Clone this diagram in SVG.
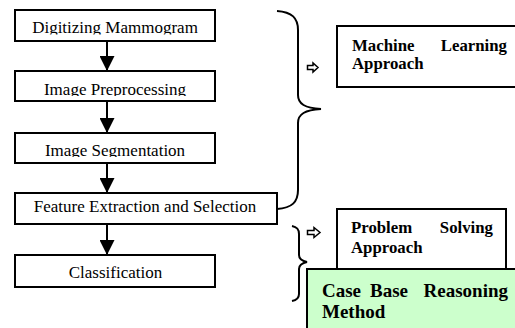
<svg xmlns="http://www.w3.org/2000/svg" width="515" height="328" viewBox="0 0 515 328">
  <style>
    .box { fill: #ffffff; stroke: #000000; stroke-width: 2; }
    text { font-family: 'Liberation Serif', 'Times New Roman', Times, serif; fill: #000000; }
    .step { font-size: 17px; }
    .bold { font-weight: bold; font-size: 16.8px; }
    .big { font-weight: bold; font-size: 19px; }
    .line { stroke: #000000; stroke-width: 2; fill: none; }
    .brace { stroke: #000000; stroke-width: 2; fill: none; }
    .hollow { fill: #ffffff; stroke: #000000; stroke-width: 1.5; stroke-linejoin: miter; }
  </style>
  <defs>
    <marker id="head" markerUnits="userSpaceOnUse" markerWidth="16" markerHeight="15" refX="15" refY="7.5" orient="auto">
      <path d="M0,0 L15,7.5 L0,15 Z" fill="#000000"/>
    </marker>
    <clipPath id="clip1"><rect x="15" y="10" width="200" height="24.6"/></clipPath>
    <clipPath id="clip2"><rect x="15" y="71" width="200" height="25"/></clipPath>
    <clipPath id="clip3"><rect x="15" y="133" width="200" height="24"/></clipPath>
  </defs>

  <rect width="515" height="328" fill="#ffffff"/>

  <!-- connectors between the processing steps -->
  <g id="connectors">
    <line class="line" x1="107" y1="41" x2="107" y2="71" marker-end="url(#head)"/>
    <line class="line" x1="107" y1="101" x2="107" y2="133" marker-end="url(#head)"/>
    <line class="line" x1="107" y1="163" x2="107" y2="193" marker-end="url(#head)"/>
    <line class="line" x1="107" y1="224" x2="107" y2="255" marker-end="url(#head)"/>
  </g>

  <!-- processing steps -->
  <g id="step-digitizing">
    <rect class="box" x="15" y="10" width="200" height="31"/>
    <text class="step" x="115" y="33.3" text-anchor="middle" font-family="Liberation Serif, serif" clip-path="url(#clip1)">Digitizing Mammogram</text>
  </g>
  <g id="step-preprocessing">
    <rect class="box" x="15" y="71" width="200" height="30"/>
    <text class="step" x="115" y="95" text-anchor="middle" clip-path="url(#clip2)">Image Preprocessing</text>
  </g>
  <g id="step-segmentation">
    <rect class="box" x="15" y="133" width="200" height="30"/>
    <text class="step" x="115" y="156" text-anchor="middle" clip-path="url(#clip3)">Image Segmentation</text>
  </g>
  <g id="step-features">
    <rect class="box" x="15" y="193" width="262" height="31"/>
    <text class="step" x="145" y="211.7" text-anchor="middle">Feature Extraction and Selection</text>
  </g>
  <g id="step-classification">
    <rect class="box" x="15" y="255" width="200" height="32"/>
    <text class="step" x="115.5" y="278" text-anchor="middle">Classification</text>
  </g>

  <!-- grouping braces -->
  <g id="brace-learning">
    <path class="brace" d="M277,11 C292,12 298,18 298,30 L298,95 C298,104 305,108 321,109 C305,110 298,114 298,123 L298,190 C298,202 292,208 277,209"/>
  </g>
  <g id="brace-solving">
    <path class="brace" d="M292,226 C297,227 299,229 299,234 L299,255 C299,259 302,261 307,262 C302,263 299,265 299,269 L299,294 C299,298 297,300 292,301"/>
  </g>

  <!-- hollow pointers -->
  <g id="pointer-learning">
    <path class="hollow" d="M307.5,65.5 L313,65.5 L313,63 L318,67.5 L313,72 L313,69.5 L307.5,69.5 Z"/>
  </g>
  <g id="pointer-solving">
    <path class="hollow" d="M307.5,230.5 L314,230.5 L314,227.5 L320,232.5 L314,237.5 L314,234.5 L307.5,234.5 Z"/>
  </g>

  <!-- approach boxes -->
  <g id="machine-learning">
    <rect class="box" x="337" y="26" width="190" height="61"/>
    <text class="bold" x="352" y="50.5">Machine</text>
    <text class="bold" x="507" y="50.5" text-anchor="end">Learning</text>
    <text class="bold" x="352" y="69">Approach</text>
  </g>
  <g id="problem-solving">
    <rect class="box" x="337" y="209" width="169" height="70"/>
    <text class="bold" x="351" y="233">Problem</text>
    <text class="bold" x="493" y="233" text-anchor="end">Solving</text>
    <text class="bold" x="351" y="253">Approach</text>
  </g>
  <g id="case-based-reasoning">
    <rect x="307" y="269" width="220" height="70" fill="#ccffcc" stroke="#000000" stroke-width="2"/>
    <text class="big" x="322" y="297">Case</text>
    <text class="big" x="370" y="297">Base</text>
    <text class="big" x="508" y="297" text-anchor="end">Reasoning</text>
    <text class="big" x="322" y="318">Method</text>
  </g>
</svg>
